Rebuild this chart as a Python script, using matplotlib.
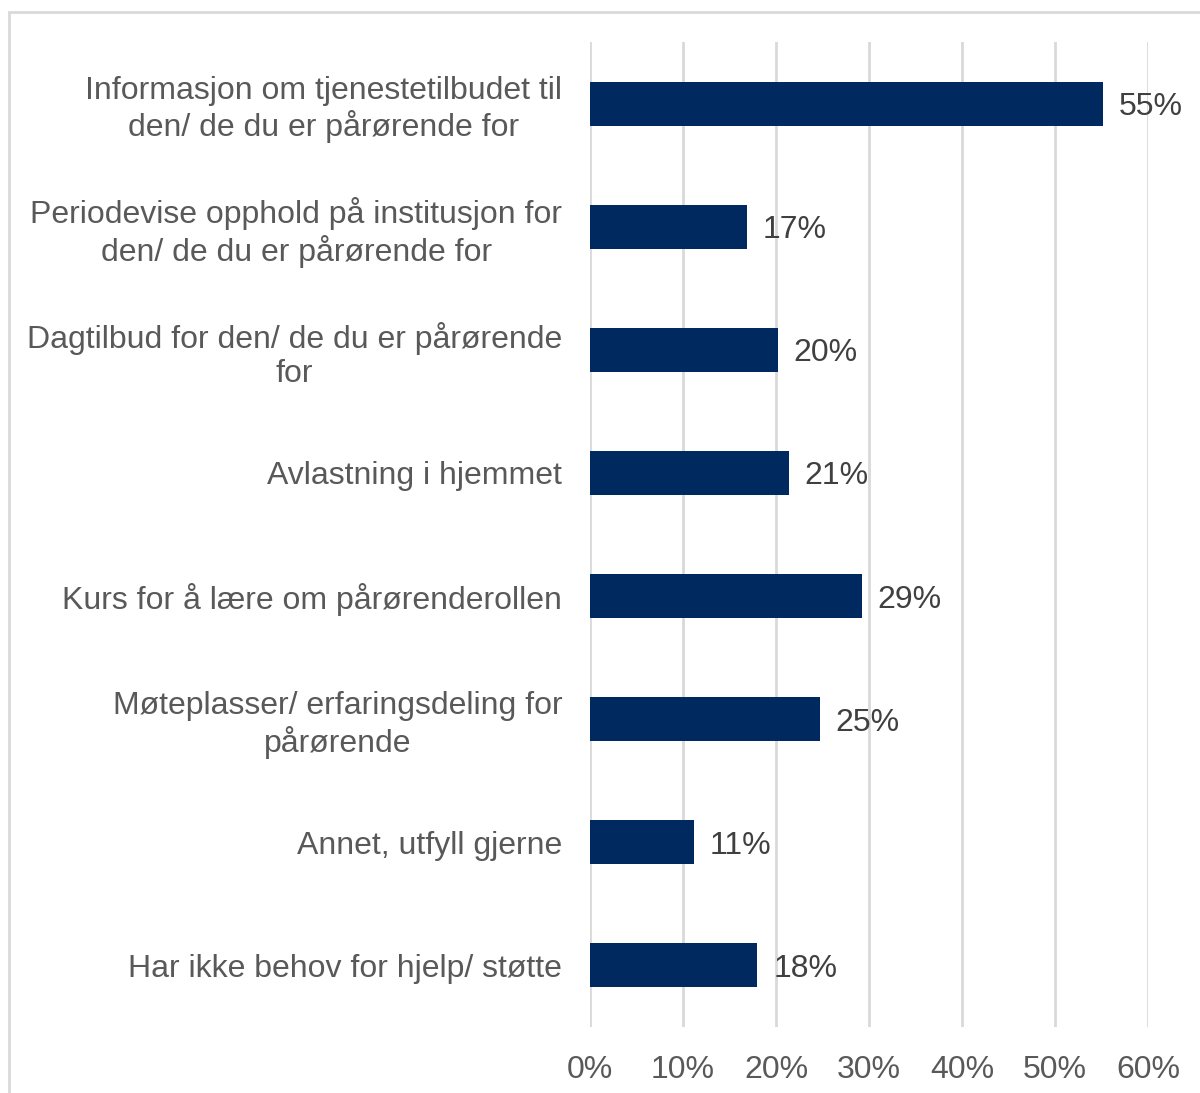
import matplotlib.pyplot as plt
from matplotlib.patches import Rectangle

plt.rcParams['font.family'] = ['Liberation Sans', 'DejaVu Sans']

# survey categories, top to bottom
categories = [
    'Informasjon om tjenestetilbudet til\nden/ de du er pårørende for',
    'Periodevise opphold på institusjon for\nden/ de du er pårørende for',
    'Dagtilbud for den/ de du er pårørende\nfor',
    'Avlastning i hjemmet',
    'Kurs for å lære om pårørenderollen',
    'Møteplasser/ erfaringsdeling for\npårørende',
    'Annet, utfyll gjerne',
    'Har ikke behov for hjelp/ støtte',
]
values = [55.2, 16.9, 20.2, 21.4, 29.2, 24.7, 11.2, 18.0]
xticks = [0, 10, 20, 30, 40, 50, 60]

bar_color = '#002960'
grid_color = '#D9D9D9'
text_gray = '#595959'

fig = plt.figure(figsize=(12, 10.93), dpi=100)
ax = fig.add_axes([590/1200, 1 - 1027/1093, 558/1200, 985/1093])

ypos = list(range(len(categories)))
bars = ax.barh(ypos, values, height=0.357, color=bar_color, zorder=3)
ax.set_ylim(len(categories) - 0.5, -0.5)
ax.set_xlim(0, 60)

for b, v in zip(bars, values):
    ax.text(v + 1.7, b.get_y() + b.get_height()/2, f'{round(v)}%',
            va='center_baseline', ha='left', fontsize=23, color='#404040')

ax.set_yticks(ypos)
ax.set_yticklabels(categories, fontsize=23, color=text_gray, linespacing=1.18,
                   multialignment='center')
ax.set_xticks(xticks)
ax.set_xticklabels([f'{t}%' for t in xticks], fontsize=23, color=text_gray)
ax.tick_params(axis='both', length=0)
ax.tick_params(axis='y', pad=20)
ax.tick_params(axis='x', pad=20)

ax.xaxis.grid(True, color=grid_color, linewidth=2, zorder=0)
for s in ax.spines.values():
    s.set_visible(False)

# outer chart frame (cropped on right and bottom)
fig.patches.append(Rectangle((9/1200, -0.1), 1.2, 1 - 12/1093 + 0.1,
                             transform=fig.transFigure, fill=False,
                             edgecolor=grid_color, linewidth=2))

fig.savefig('out.png', dpi=100)
